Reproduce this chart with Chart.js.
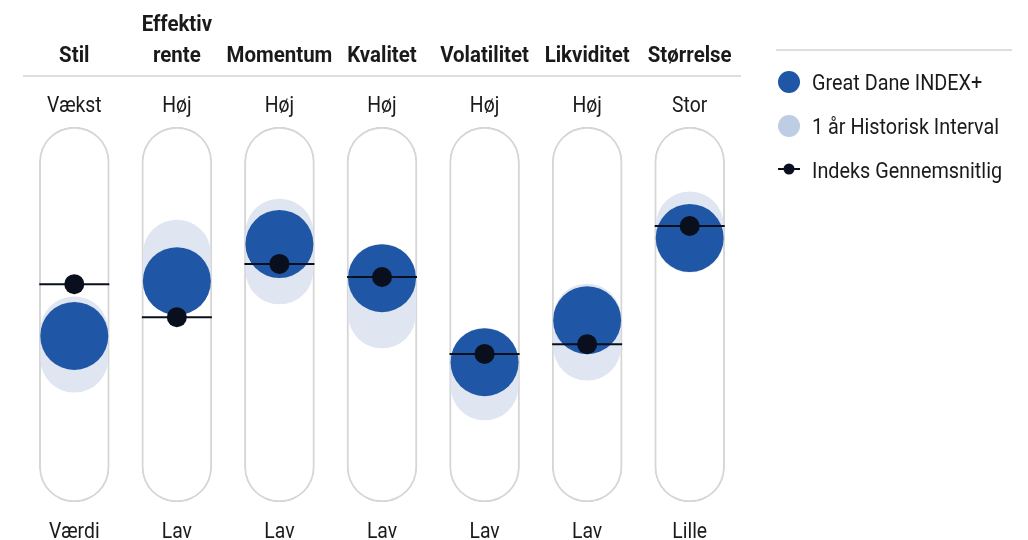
<!DOCTYPE html>
<html>
<head>
<meta charset="utf-8">
<script src="https://cdn.jsdelivr.net/npm/chart.js@4/dist/chart.umd.min.js"></script>
<style>
  html, body { margin: 0; padding: 0; background: #fff; }
  canvas { display: block; }
</style>
</head>
<body>
<canvas id="factorChart" width="1028" height="540"></canvas>
<script>
// factor names (header) and the end labels of each bar
const factors = [['Stil'], ['Effektiv', 'rente'], ['Momentum'], ['Kvalitet'], ['Volatilitet'], ['Likviditet'], ['Størrelse']];
const highLabels = ['Vækst', 'Høj', 'Høj', 'Høj', 'Høj', 'Høj', 'Stor'];
const lowLabels = ['Værdi', 'Lav', 'Lav', 'Lav', 'Lav', 'Lav', 'Lille'];

// 0 = bottom of the bar, 100 = top
const fundScore = [44.3, 58.9, 68.8, 59.7, 37.3, 48.5, 70.4];
const histLow = [29.3, 50.4, 52.8, 41.1, 21.9, 32.5, 61.3];
const histHigh = [54.7, 75.2, 80.8, 68.8, 46.4, 58.1, 82.7];
const indexAvg = [58.1, 49.3, 63.5, 60.0, 39.5, 42.1, 73.6];

const legendNames = ['Great Dane INDEX+', '1 år Historisk Interval', 'Indeks Gennemsnitlig'];

const BLUE = '#1F56A5';
const LIGHT = '#DFE6F1';
const LIGHT_LEGEND = '#BCCDE4';
const DOT = '#0A0F1E';
const GREY = '#D6D6D6';

// text squeezed horizontally to look like a condensed face
function drawText(ctx, text, x, y, font, sx) {
  ctx.save();
  ctx.font = font;
  ctx.translate(x, y);
  ctx.scale(sx, 1);
  ctx.fillText(text, 0, 0);
  ctx.restore();
}

const labelsPlugin = {
  id: 'labelsPlugin',
  afterDraw(chart) {
    const { ctx, chartArea } = chart;
    const xScale = chart.scales.x;
    ctx.save();
    ctx.fillStyle = '#1a1a1a';
    ctx.textBaseline = 'alphabetic';
    ctx.textAlign = 'center';

    factors.forEach((lines, i) => {
      const x = xScale.getPixelForValue(i);
      lines.forEach((line, j) => {
        const y = 62 - (lines.length - 1 - j) * 31;
        drawText(ctx, line, x, y, 'bold 22px Roboto', 0.93);
      });
      drawText(ctx, highLabels[i], x, 112, '22px Roboto', 0.88);
      drawText(ctx, lowLabels[i], x, 538, '22px Roboto', 0.88);
    });

    // rule under the headers
    ctx.strokeStyle = '#d3d3d3';
    ctx.lineWidth = 1.5;
    ctx.beginPath();
    ctx.moveTo(chartArea.left, 76);
    ctx.lineTo(chartArea.right, 76);
    ctx.stroke();

    // legend
    ctx.beginPath();
    ctx.moveTo(776, 50);
    ctx.lineTo(1012, 50);
    ctx.stroke();

    const lx = 789;
    ctx.fillStyle = BLUE;
    ctx.beginPath();
    ctx.arc(lx, 82, 11, 0, Math.PI * 2);
    ctx.fill();
    ctx.fillStyle = LIGHT_LEGEND;
    ctx.beginPath();
    ctx.arc(lx, 126, 11, 0, Math.PI * 2);
    ctx.fill();
    ctx.strokeStyle = DOT;
    ctx.lineWidth = 2;
    ctx.beginPath();
    ctx.moveTo(778, 169);
    ctx.lineTo(800, 169);
    ctx.stroke();
    ctx.fillStyle = DOT;
    ctx.beginPath();
    ctx.arc(lx, 169, 5.5, 0, Math.PI * 2);
    ctx.fill();

    ctx.fillStyle = '#1a1a1a';
    ctx.textAlign = 'left';
    legendNames.forEach((name, i) => {
      drawText(ctx, name, 812, 90 + i * 44, '22px Roboto', 0.9);
    });
    ctx.restore();
  },
};

new Chart(document.getElementById('factorChart'), {
  type: 'bar',
  data: {
    labels: factors.map((f) => f.join(' ')),
    datasets: [
      {
        data: factors.map(() => [0, 100]),
        backgroundColor: '#fff',
        borderColor: GREY,
        borderWidth: 2,
        borderRadius: 35,
        borderSkipped: false,
        barThickness: 70,
        grouped: false,
        order: 5,
      },
      {
        data: histLow.map((v, i) => [v, histHigh[i]]),
        backgroundColor: LIGHT,
        borderWidth: 0,
        borderRadius: 34,
        borderSkipped: false,
        barThickness: 67,
        grouped: false,
        order: 4,
      },
      {
        type: 'line',
        data: fundScore,
        showLine: false,
        pointRadius: 34,
        pointHoverRadius: 34,
        pointBackgroundColor: BLUE,
        pointBorderWidth: 0,
        clip: false,
        order: 3,
      },
      {
        type: 'line',
        data: indexAvg,
        showLine: false,
        pointStyle: 'line',
        pointRadius: 35,
        pointHoverRadius: 35,
        pointBorderColor: DOT,
        pointBorderWidth: 2,
        clip: false,
        order: 2,
      },
      {
        type: 'line',
        data: indexAvg,
        showLine: false,
        pointRadius: 10,
        pointHoverRadius: 10,
        pointBackgroundColor: DOT,
        pointBorderWidth: 0,
        clip: false,
        order: 1,
      },
    ],
  },
  options: {
    responsive: false,
    animation: false,
    layout: {
      autoPadding: false,
      padding: { left: 23, right: 287, top: 127, bottom: 38 },
    },
    plugins: {
      legend: { display: false },
      tooltip: { enabled: false },
    },
    scales: {
      x: { display: false, offset: true },
      y: { display: false, min: 0, max: 100 },
    },
  },
  plugins: [labelsPlugin],
});
</script>
</body>
</html>
